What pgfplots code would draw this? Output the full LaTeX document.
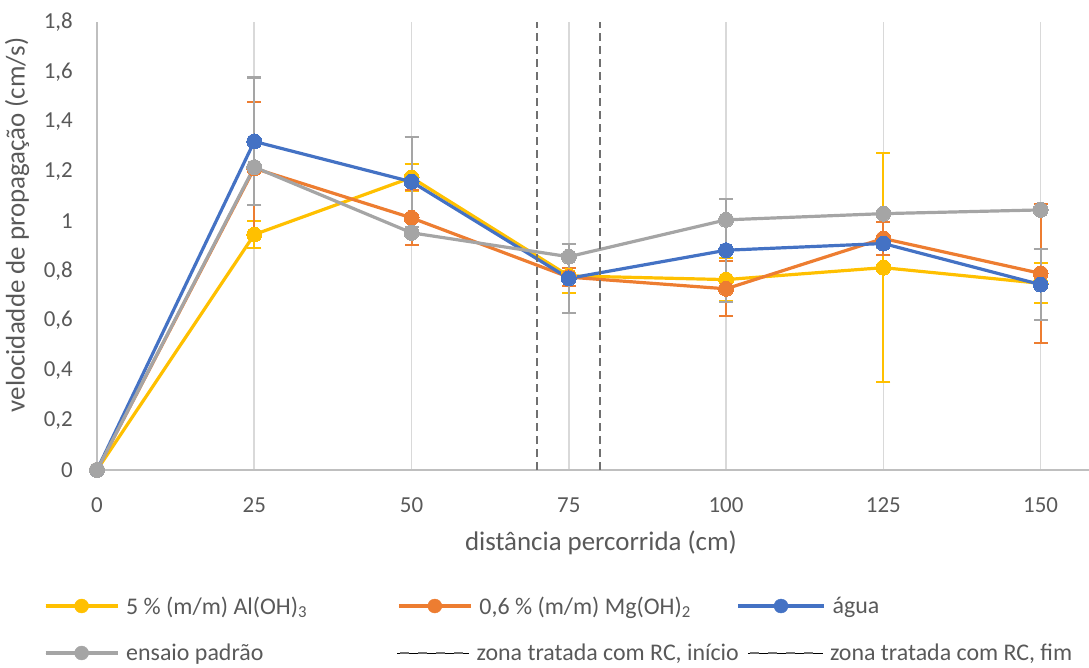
\documentclass[border=0pt]{standalone}
\usepackage{pgfplots}
\pgfplotsset{compat=1.18}
\usepackage{fontspec}
\setmainfont{Carlito}
\definecolor{cY}{HTML}{FFC000}
\definecolor{cO}{HTML}{ED7D31}
\definecolor{cB}{HTML}{4472C4}
\definecolor{cG}{HTML}{A5A5A5}
\definecolor{txt}{HTML}{595959}
\definecolor{gridc}{HTML}{D9D9D9}
\definecolor{axc}{HTML}{BFBFBF}
\definecolor{dsh}{HTML}{707070}
\pgfplotsset{
  ser/.style={color=#1, line width=3.2bp, mark=*, mark size=7.5bp,
    mark options={solid, fill=#1, draw=#1, line width=0pt}},
  eb/.style={error bars/.cd, y dir=both, y explicit,
    error bar style={line width=2bp, color=#1},
    error mark options={rotate=90, mark size=7bp, line width=2bp, color=#1},
    /pgfplots/.cd},
  legsty/.style={legend columns=3,
    legend style={at={(axis description cs:-0.0534,#1)}, anchor=west,
      draw=none, fill=none, inner sep=0pt, outer sep=0pt,
      font=\fontsize{24}{29}\selectfont, text=txt,
      /tikz/every odd column/.style={column sep=7bp},
      /tikz/every even column/.style={column sep=0bp},
      nodes={inner sep=0pt, anchor=west}},
    legend cell align=left},
}
\newcommand{\serimg}[2][72]{\path (0bp,0bp) -- (#1bp,0bp); \draw[#2, line width=3.2bp] (0bp,0bp) -- (#1bp,0bp); \fill[#2] (#1bp/2,0bp) circle[radius=7bp];}
\begin{document}
\begin{tikzpicture}
\begin{axis}[
  name=main,
  scale only axis, width=992bp, height=448bp,
  xmin=0, xmax=157.7, ymin=0, ymax=1.8,
  axis x line*=bottom, axis y line*=left,
  axis line style={draw=axc, line width=1.6bp},
  xtick={0,25,50,75,100,125,150},
  ytick={0,0.2,0.4,0.6,0.8,1,1.2,1.4,1.6,1.8},
  major tick length=0pt,
  xmajorgrids, grid style={draw=gridc, line width=1.6bp},
  /pgf/number format/.cd, use comma, fixed, precision=1, assume math mode=true,
  /pgfplots/.cd,
  ticklabel style={font=\fontsize{23}{27}\selectfont, text=txt},
  xticklabel style={anchor=center, yshift=-35bp},
  yticklabel style={anchor=east, inner sep=0pt, xshift=-24bp},
  xlabel={distância percorrida (cm)},
  ylabel={velocidadde de propagação (cm/s)},
  label style={font=\fontsize{27}{32}\selectfont, text=txt},
  xlabel style={at={(axis description cs:0.508,-0.163)}, anchor=center},
  ylabel style={at={(axis description cs:-0.0806,0.547)}, anchor=center},
  clip=false,
  legsty=-0.3036,
]
% 5 % (m/m) Al(OH)3
\addplot[forget plot, ser=cY, eb=cY] coordinates {
 (0,0) +- (0,0)
 (25,0.946) +- (0,0.055)
 (50,1.175) +- (0,0.055)
 (75,0.78) +- (0,0.07)
 (100,0.765) +- (0,0.085)
 (125,0.813) +- (0,0.46)
 (150,0.75) +- (0,0.08)
};
\addlegendimage{legend image code/.code={\serimg{cY}}}
\addlegendentry{\makebox[271bp][l]{5 \% (m/m) Al(OH)\textsubscript{3}}}
% 0,6 % (m/m) Mg(OH)2
\addplot[forget plot, ser=cO, eb=cO] coordinates {
 (0,0) +- (0,0)
 (25,1.212) +- (0,0.265)
 (50,1.013) +- (0,0.11)
 (75,0.775) +- (0,0.035)
 (100,0.728) +- (0,0.11)
 (125,0.93) +- (0,0.065)
 (150,0.79) +- (0,0.28)
};
\addlegendimage{legend image code/.code={\serimg{cO}}}
\addlegendentry{\makebox[257bp][l]{0,6 \% (m/m) Mg(OH)\textsubscript{2}}}
% agua
\addplot[forget plot, ser=cB, eb=cG] coordinates {
 (0,0) +- (0,0)
 (25,1.32) +- (0,0.257)
 (50,1.158) +- (0,0.18)
 (75,0.77) +- (0,0.14)
 (100,0.883) +- (0,0.207)
 (125,0.91) +- (0,0.02)
 (150,0.745) +- (0,0.143)
};
\addlegendimage{legend image code/.code={\serimg[86]{cB}}}
\addlegendentry{água}
% ensaio padrao
\addplot[forget plot, ser=cG] coordinates {
 (0,0) (25,1.217) (50,0.953) (75,0.857) (100,1.005) (125,1.03) (150,1.045)
};
% zona tratada
\addplot[forget plot, dsh, line width=1.8bp, dash pattern=on 8bp off 5bp] coordinates {(70,0) (70,1.8)};
\addplot[forget plot, dsh, line width=1.8bp, dash pattern=on 8bp off 5bp] coordinates {(80,0) (80,1.8)};
\end{axis}
\begin{axis}[
  scale only axis, width=992bp, height=448bp,
  xmin=0, xmax=157.7, ymin=0, ymax=1.8,
  hide axis,
  legsty=-0.4085,
]
\addlegendimage{legend image code/.code={\serimg{cG}}}
\addlegendentry{\makebox[271bp][l]{ensaio padrão}}
\addlegendimage{legend image code/.code={\path (0bp,0bp) -- (72bp,0bp); \draw[dsh, line width=1.8bp] (3bp,0bp) -- (12bp,0bp) (21bp,0bp) -- (30bp,0bp) (39bp,0bp) -- (48bp,0bp) (57bp,0bp) -- (66bp,0bp);}}
\addlegendentry{\makebox[271bp][l]{zona tratada com RC, início}}
\addlegendimage{legend image code/.code={\path (0bp,0bp) -- (75bp,0bp); \draw[dsh, line width=1.8bp] (2bp,0bp) -- (11bp,0bp) (20bp,0bp) -- (29bp,0bp) (38bp,0bp) -- (47bp,0bp) (56bp,0bp) -- (65bp,0bp);}}
\addlegendentry{zona tratada com RC, fim}
\end{axis}
\pgfresetboundingbox
\path ([shift={(-97bp,-198bp)}]main.south west) rectangle ([shift={(0bp,22bp)}]main.north east);
\end{tikzpicture}
\end{document}
